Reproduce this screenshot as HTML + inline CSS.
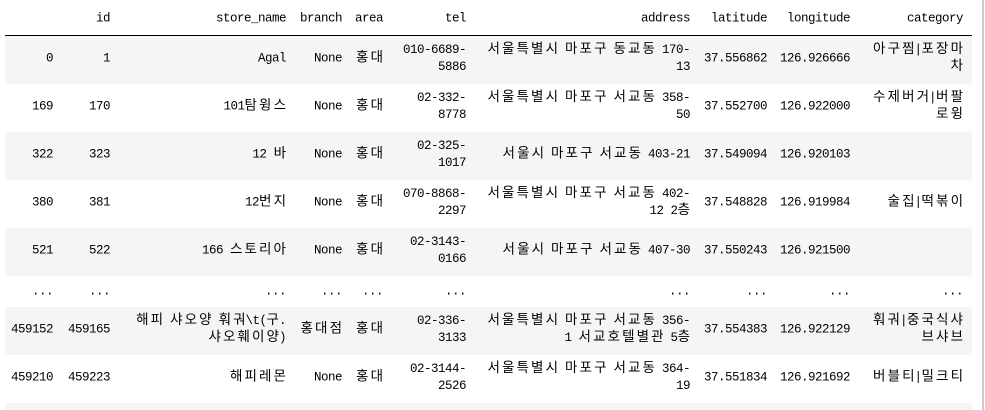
<!DOCTYPE html>
<html><head><meta charset="utf-8">
<style>
html,body{margin:0;padding:0;background:#fff;width:985px;height:410px;overflow:hidden}
body{position:relative;font-family:"Liberation Mono","Noto Sans CJK KR",monospace;font-size:12.5px;letter-spacing:-0.5px;color:#000}
.row{position:absolute;left:5px;width:967px}
.g{background:#f5f5f5}
.c{position:absolute;text-align:right;white-space:nowrap;line-height:17px;transform:translateY(-50%)}
.h{letter-spacing:2.1px;font-size:13.5px;margin-right:-2.1px}
#hr{position:absolute;left:5px;top:35px;width:967px;height:1px;background:#000}
#sb{position:absolute;left:982px;top:0;width:2px;height:410px;background:#ccc}
</style></head><body>
<div id="hr"></div>
<div id="sb"></div>
<div id="tbl"></div>
<script>
const columns = ["", "id", "store_name", "branch", "area", "tel", "address", "latitude", "longitude", "category"];
const rowsData = [
 ["0","1","Agal","None","홍대","010-6689-\n5886","서울특별시 마포구 동교동 170-\n13","37.556862","126.926666","아구찜|포장마\n차"],
 ["169","170","101탐윙스","None","홍대","02-332-\n8778","서울특별시 마포구 서교동 358-\n50","37.552700","126.922000","수제버거|버팔\n로윙"],
 ["322","323","12 바","None","홍대","02-325-\n1017","서울시 마포구 서교동 403-21","37.549094","126.920103",""],
 ["380","381","12번지","None","홍대","070-8868-\n2297","서울특별시 마포구 서교동 402-\n12 2층","37.548828","126.919984","술집|떡볶이"],
 ["521","522","166 스토리아","None","홍대","02-3143-\n0166","서울시 마포구 서교동 407-30","37.550243","126.921500",""],
 ["...","...","...","...","...","...","...","...","...","..."],
 ["459152","459165","해피 샤오양 훠궈\\t(구.\n샤오훼이양)","홍대점","홍대","02-336-\n3133","서울특별시 마포구 서교동 356-\n1 서교호텔별관 5층","37.554383","126.922129","훠궈|중국식샤\n브샤브"],
 ["459210","459223","해피레몬","None","홍대","02-3144-\n2526","서울특별시 마포구 서교동 364-\n19","37.551834","126.921692","버블티|밀크티"]
];
const colRight = [53,110,286,342,383,466,690,767,850,963];
const rowTops = [36,84,132,180,228,276,307,355,403];
const tbl = document.getElementById('tbl');
function esc(s){return s.replace(/&/g,'&amp;').replace(/</g,'&lt;');}
function fmt(s){return esc(s).replace(/([\uAC00-\uD7A3]+)/g,'<span class="h">$1</span>').replace(/\n/g,'<br>');}
function cell(txt,right,cy,name){
  const d=document.createElement('div');
  d.className='c';
  
  
  d.style.right=(985-right)+'px';
  d.style.top=cy+'px';
  d.innerHTML=fmt(txt);
  document.body.appendChild(d);
}
columns.forEach((c,i)=>{ if(c) cell(c,colRight[i],19,'header-'+c.replace(/_/g,'-')); });
for(let r=0;r<rowTops.length;r++){
  const top=rowTops[r], bot=(r+1<rowTops.length?rowTops[r+1]:410);
  const bg=document.createElement('div');
  bg.className='row'+(r%2===0?' g':'');
  
  
  bg.style.top=top+'px'; bg.style.height=(bot-top)+'px';
  tbl.appendChild(bg);
}
rowsData.forEach((row,r)=>{
  const cy=(rowTops[r]+rowTops[r+1])/2 - (r===5?0:1);
  row.forEach((v,i)=>{ if(v) cell(v,colRight[i],cy,'cell-'+r+'-'+(columns[i]||'index')); });
});
</script>
</body></html>
